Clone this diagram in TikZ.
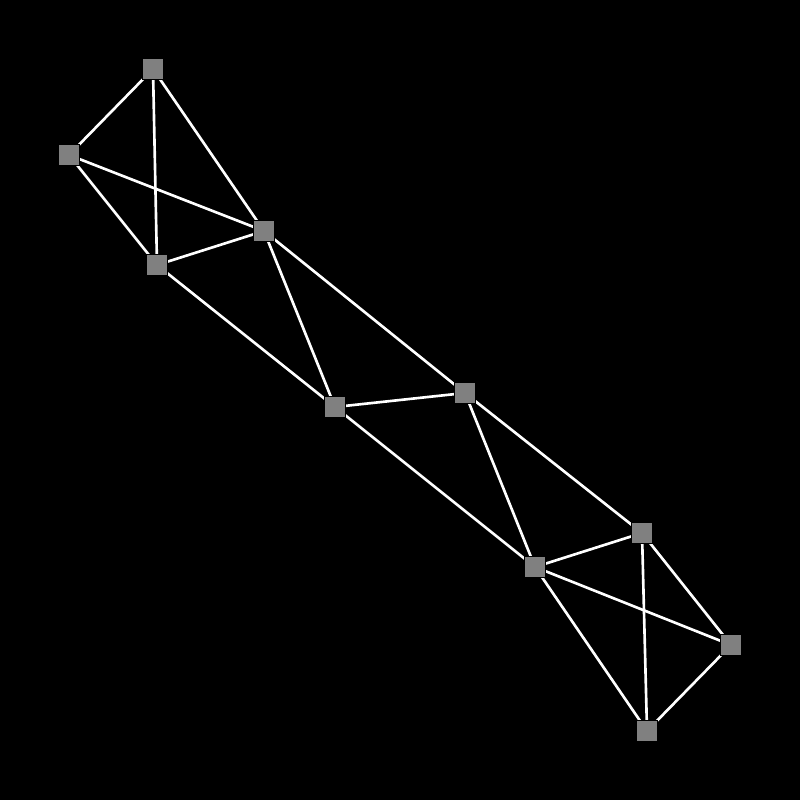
\documentclass[tikz,border=0pt]{standalone}
\usepackage{tikz}
\usetikzlibrary{backgrounds}
\definecolor{bg}{HTML}{000000}
\definecolor{vx}{HTML}{808080}
\tikzset{
  every picture/.style={line width=0.7pt},
  vtx/.style={draw=black,line width=0.3pt,fill=vx,minimum size=2.1mm,inner sep=0pt},
  lnk/.style={draw=white,line width=0.75pt},
}
\begin{document}
\begin{tikzpicture}[x=0.1mm,y=-0.1mm]
  \useasboundingbox (0,0) rectangle (800,800);
  % vertices
  \foreach \n/\x/\y in {a/153/69,b/69/155,c/264/231,d/157/265,e/335/407,f/465/393,g/642/533,h/535/567,i/731/645,j/647/731}
    \node[vtx] (\n) at (\x,\y) {};
  % links
  \begin{scope}[on background layer]
    \fill[bg] (0,0) rectangle (800,800);
    \foreach \p/\q in {a/b,a/d,a/c,b/c,b/d,d/c,d/e,c/e,c/f,e/f,e/h,f/h,f/g,h/g,h/i,h/j,g/i,g/j,i/j}
      \draw[lnk] (\p.center) -- (\q.center);
  \end{scope}
\end{tikzpicture}
\end{document}
